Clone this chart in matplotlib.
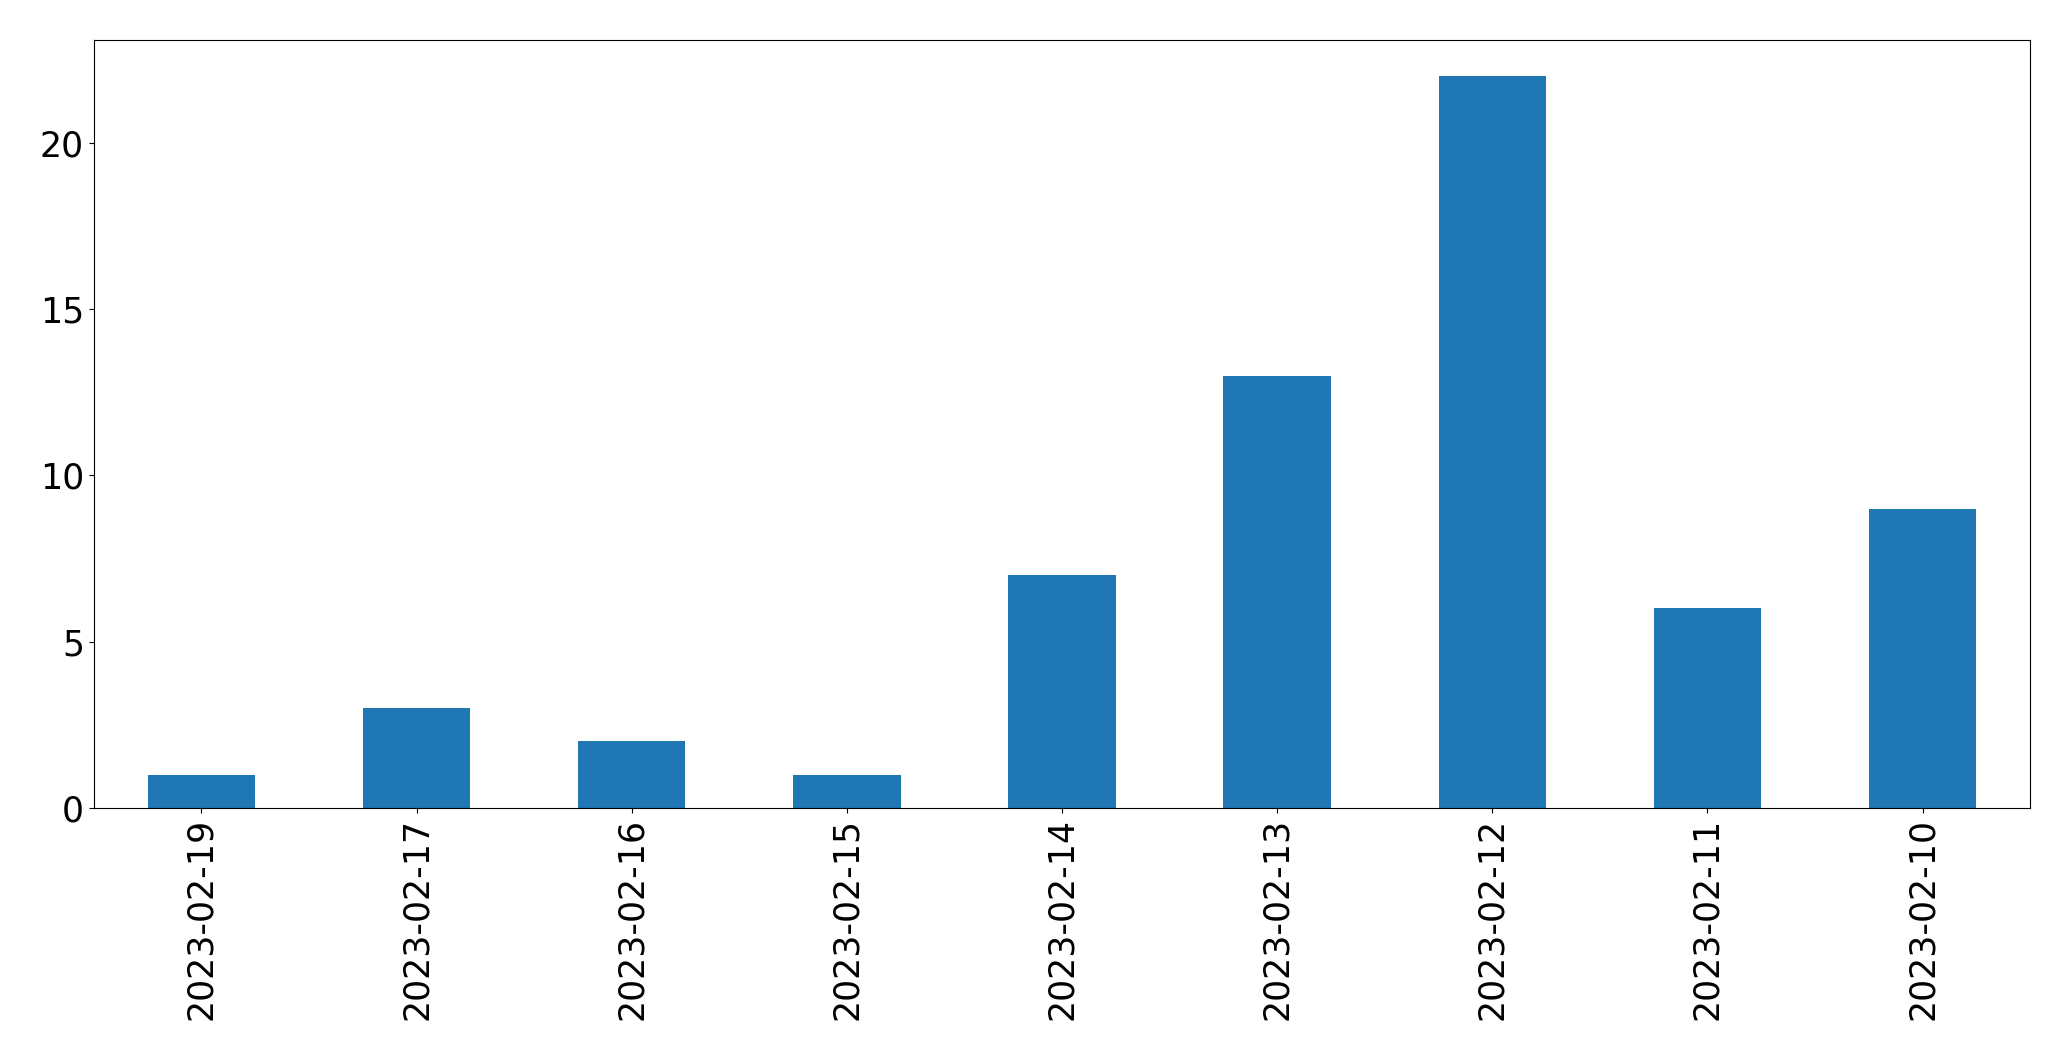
import matplotlib
matplotlib.use('Agg')
import matplotlib.pyplot as plt
import pandas as pd

dates = ["2023-02-19", "2023-02-17", "2023-02-16", "2023-02-15", "2023-02-14",
         "2023-02-13", "2023-02-12", "2023-02-11", "2023-02-10"]
counts = [1, 3, 2, 1, 7, 13, 22, 6, 9]

plt.rcParams['font.size'] = 25

series = pd.Series(counts, index=dates)

fig = plt.figure(figsize=(20.71, 10.61), dpi=100)
ax = fig.add_axes([0.0453, 0.2385, 0.9350, 0.7242])
series.plot(kind="bar", ax=ax, color="#1f77b4")
ax.tick_params(axis='x', labelrotation=90)

plt.savefig("out.png", dpi=100)
plt.close()
